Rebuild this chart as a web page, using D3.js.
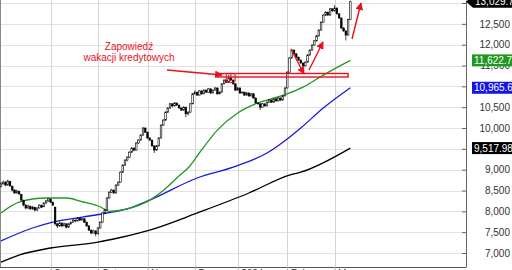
<!DOCTYPE html>
<html>
<head>
<meta charset="utf-8">
<script src="https://cdn.jsdelivr.net/npm/d3@7"></script>
<style>
  body { margin: 0; background: #fff; }
  svg { display: block; font-family: "Liberation Sans", Arial, sans-serif; }
</style>
</head>
<body>
<div id="chart"></div>
<script>
// daily OHLC, Aug 2023 - mid Mar 2024 (trading day index)
const opens = [8600,8660,8700,8630,8720,8600,8510,8440,8480,8400, 8260,8150,8080,8120,8060,8090,8030,8080,8140,8110,
  8200,8250,8290,8220,8100,7700,7650,7720,7650,7700, 7620,7700,7740,7790,7770,7840,7790,7820,7740,7650,
  7550,7480,7530,7460,7600,7740,7960,8030,8320,8460, 8510,8440,8630,8700,8940,9110,9230,9300,9420,9520,
  9470,9640,9710,9830,10000,9900,9760,9710,9570,9470, 9570,9760,10070,10190,10380,10480,10580,10530,10600,10550,
  10480,10430,10500,10340,10380,10580,10820,10860,10790,10890, 10820,10910,10860,10940,10840,10910,10960,10820,10860,11060,
  11150,11100,11200,11150,11060,10910,10960,10840,10860,10790, 10840,10770,10820,10720,10600,10580,10500,10580,10530,10620,
  10670,10620,10700,10650,10720,10670,10770,10960,11340,11680, 11870,11780,11700,11630,11560,11490,11580,11750,11870,11990,
  12090,12210,12350,12540,12710,12780,12710,12860,12810,12880, 12740,12640,12400,12330,12230,12600];
const highs = [8700,8740,8720,8760,8730,8620,8530,8520,8500,8420, 8280,8170,8160,8140,8130,8110,8100,8170,8160,8220,
  8270,8320,8310,8230,8110,7720,7750,7730,7730,7710, 7720,7760,7810,7800,7860,7850,7840,7830,7750,7660,
  7560,7560,7540,7620,7760,7980,8060,8340,8480,8540, 8520,8650,8720,8960,9130,9250,9320,9440,9540,9530,
  9660,9730,9850,10020,10010,9910,9780,9720,9580,9590, 9780,10090,10210,10400,10500,10600,10590,10620,10610,10560,
  10490,10520,10510,10400,10600,10840,10900,10870,10910,10900, 10930,10920,10960,10950,10930,10980,10970,10880,11080,11170,
  11160,11280,11300,11160,11070,10980,10970,10880,10870,10860, 10850,10840,10830,10730,10620,10590,10600,10590,10640,10690,
  10680,10720,10710,10740,10730,10790,10980,11360,11700,11900, 11880,11790,11710,11640,11570,11600,11770,11890,12010,12110,
  12230,12370,12560,12730,12800,12790,12880,12870,12950,12890, 12750,12650,12420,12340,12620,13060];
const lows = [8580,8640,8600,8620,8590,8480,8420,8430,8390,8250, 8120,8050,8060,8030,8040,8000,8010,8070,8080,8100,
  8180,8230,8200,8130,7660,7600,7630,7620,7640,7590, 7610,7680,7730,7740,7760,7770,7780,7720,7630,7530,
  7450,7470,7400,7450,7590,7730,7940,8020,8300,8440, 8420,8430,8610,8690,8920,9090,9200,9280,9400,9440,
  9460,9620,9700,9820,9880,9740,9690,9550,9400,9460, 9560,9750,10050,10170,10360,10460,10500,10520,10530,10460,
  10410,10420,10260,10300,10370,10570,10800,10770,10780,10800, 10810,10840,10850,10820,10830,10900,10800,10810,10850,11050,
  11080,11090,11130,11040,10890,10900,10820,10830,10770,10780, 10750,10760,10700,10580,10560,10430,10490,10510,10520,10610,
  10600,10610,10630,10640,10650,10660,10760,10950,11330,11670, 11760,11680,11610,11540,11450,11480,11570,11740,11860,11980,
  12080,12200,12340,12530,12690,12690,12700,12790,12800,12720, 12620,12380,12310,12100,12220,12590];
const closes = [8660,8700,8630,8730,8610,8510,8440,8490,8420,8270, 8150,8080,8130,8060,8100,8030,8080,8150,8100,8200,
  8250,8300,8220,8150,7700,7650,7720,7650,7700,7620, 7700,7740,7790,7770,7840,7790,7820,7740,7650,7550,
  7480,7530,7460,7600,7740,7960,8030,8320,8460,8510, 8440,8630,8700,8940,9110,9230,9300,9420,9520,9470,
  9640,9710,9830,10000,9900,9760,9710,9570,9470,9570, 9760,10070,10190,10380,10480,10580,10530,10600,10550,10480,
  10430,10500,10340,10380,10580,10820,10860,10790,10890,10820, 10910,10860,10940,10840,10910,10960,10820,10860,11060,11150,
  11100,11200,11150,11060,10910,10960,10840,10860,10790,10840, 10770,10820,10720,10600,10580,10500,10580,10530,10620,10670,
  10620,10700,10650,10720,10670,10770,10960,11340,11680,11870, 11780,11700,11630,11560,11490,11580,11750,11870,11990,12090,
  12210,12350,12540,12710,12780,12710,12860,12810,12880,12740, 12640,12400,12330,12230,12600,13029.7];

// moving averages (day index, value)
const sma50Idx = [0,8,20,29,36,44,48,56,66,72,78,84,88,96,105,114,120,126,134,143,155];
const sma50 = [7960,8220,8320,8320,8230,8110,8000,8060,8270,8500,8800,9100,9400,9950,10360,10600,10700,10800,10980,11270,11622.7];
const sma100Idx = [0,14,23,36,47,56,66,87,103,118,128,133,143,155];
const sma100 = [7290,7600,7740,7860,7960,8060,8270,8800,9060,9400,9780,10000,10480,10965.6];
const sma200Idx = [0,8,22,43,52,66,88,110,128,133,155];
const sma200 = [6780,6950,7120,7260,7360,7550,7980,8440,8870,8940,9517.98];

const monthIdx = [22,43,65,86,105,127,148];
const monthLabels = ['Sep','Oct','Nov','Dec','2024','Feb','Mar'];
const yTicks = [7000,7500,8000,8500,9000,9500,10000,10500,11000,11500,12000,12500,13000];
const hiddenTicks = [9500,11000,13000]; // covered by the value tags

const W = 512, H = 270;
const plotR = 466, plotB = 267;

const svg = d3.select('#chart').append('svg').attr('width', W).attr('height', H);

const x = d3.scaleLinear().domain([0, 206]).range([1, 465.3]);
const y = d3.scaleLinear().domain([6664, 13072]).range([plotB, 0]);

// grid
svg.append('g').selectAll('line').data(yTicks).enter().append('line')
  .attr('x1', 0).attr('x2', plotR)
  .attr('y1', d => Math.round(y(d)) + 0.5).attr('y2', d => Math.round(y(d)) + 0.5)
  .attr('stroke', '#e2e2e2');
svg.append('g').selectAll('line').data(monthIdx).enter().append('line')
  .attr('x1', d => Math.round(x(d)) + 0.5).attr('x2', d => Math.round(x(d)) + 0.5)
  .attr('y1', 0).attr('y2', plotB)
  .attr('stroke', '#d4d4d4');
svg.append('line').attr('x1', 0.5).attr('x2', 0.5).attr('y1', 0).attr('y2', plotB).attr('stroke', '#888');

// moving averages
const maLine = (idx) => d3.line().x((d, i) => x(idx[i])).y(d => y(d)).curve(d3.curveMonotoneX);
svg.append('path').attr('d', maLine(sma200Idx)(sma200)).attr('fill', 'none').attr('stroke', '#000').attr('stroke-width', 1.3);
svg.append('path').attr('d', maLine(sma100Idx)(sma100)).attr('fill', 'none').attr('stroke', '#1a1ad8').attr('stroke-width', 1.3);
svg.append('path').attr('d', maLine(sma50Idx)(sma50)).attr('fill', 'none').attr('stroke', '#229922').attr('stroke-width', 1.3);

// candles
const days = d3.range(closes.length);
const candles = svg.append('g');
candles.selectAll('.wick').data(days).enter().append('line')
  .attr('x1', d => x(d)).attr('x2', d => x(d))
  .attr('y1', d => y(highs[d])).attr('y2', d => y(lows[d]))
  .attr('stroke', '#000').attr('stroke-width', 0.7);
candles.selectAll('.body').data(days).enter().append('rect')
  .attr('x', d => x(d) - 0.8)
  .attr('width', 1.6)
  .attr('y', d => y(Math.max(opens[d], closes[d])))
  .attr('height', d => Math.max(0.8, Math.abs(y(opens[d]) - y(closes[d]))))
  .attr('fill', d => closes[d] >= opens[d] ? '#fff' : '#000')
  .attr('stroke', '#000').attr('stroke-width', 0.6);

// annotations
const red = '#e8121c';
const defs = svg.append('defs');
defs.append('marker').attr('id', 'ah').attr('viewBox', '0 0 10 10')
  .attr('refX', 9).attr('refY', 5).attr('markerWidth', 5.5).attr('markerHeight', 5.5)
  .attr('orient', 'auto').append('path').attr('d', 'M0,0L10,5L0,10Z').attr('fill', red);

svg.append('rect').attr('x', x(96)).attr('y', 73.5).attr('width', x(154) - x(96)).attr('height', 3.5)
  .attr('fill', 'none').attr('stroke', red).attr('stroke-width', 1.4);
svg.append('rect').attr('x', x(101) - 2.5).attr('y', y(11310)).attr('width', 9).attr('height', 9)
  .attr('rx', 1.5).attr('fill', 'rgba(232,18,28,0.12)').attr('stroke', red).attr('stroke-width', 1);

const arrows = [
  [167, 70, 222, 75],
  [291, 49, 304, 74],
  [309, 70, 323, 42],
  [352, 39, 361, 3]
];
svg.append('g').selectAll('line').data(arrows).enter().append('line')
  .attr('x1', d => d[0]).attr('y1', d => d[1]).attr('x2', d => d[2]).attr('y2', d => d[3])
  .attr('stroke', red).attr('stroke-width', 1.4).attr('marker-end', 'url(#ah)');

svg.append('text').attr('x', 129).attr('y', 50).attr('text-anchor', 'middle')
  .attr('fill', red).attr('font-size', 10).text('Zapowiedź');
svg.append('text').attr('x', 129).attr('y', 61).attr('text-anchor', 'middle')
  .attr('fill', red).attr('font-size', 10).text('wakacji kredytowych');

// right axis
const yAxis = svg.append('g').attr('transform', `translate(${plotR},0)`)
  .call(d3.axisRight(y).tickValues(yTicks).tickSize(-4).tickSizeOuter(0)
    .tickFormat(d => hiddenTicks.includes(d) ? '' : d3.format(',')(d)));
yAxis.select('.domain').attr('stroke', '#666');
yAxis.selectAll('.tick line').attr('stroke', '#666');
yAxis.selectAll('.tick text').attr('text-anchor', 'end').attr('x', 44)
  .attr('fill', '#333').attr('font-size', 10).attr('font-family', '"Liberation Sans", Arial, sans-serif');

// bottom axis
const xAxis = svg.append('g').attr('transform', `translate(0,${plotB})`)
  .call(d3.axisBottom(x).tickValues(monthIdx).tickSize(4).tickSizeOuter(0)
    .tickFormat((d, i) => monthLabels[i]));
xAxis.select('.domain').attr('stroke', '#555').attr('d', `M0,0.5H${plotR}`);
xAxis.selectAll('.tick line').attr('stroke', '#aaa');
xAxis.selectAll('.tick text').attr('text-anchor', 'start').attr('x', 3).attr('y', 3)
  .attr('fill', '#333').attr('font-size', 10).attr('font-family', '"Liberation Sans", Arial, sans-serif');

// value tags
const tags = [
  { v: sma50[sma50.length - 1], fill: '#1f9a1f', text: '11,622.7' },
  { v: sma100[sma100.length - 1], fill: '#1515e6', text: '10,965.6' },
  { v: sma200[sma200.length - 1], fill: '#000', text: '9,517.98' }
];
tags.forEach(t => {
  const cy = y(t.v);
  svg.append('rect').attr('x', 472).attr('y', cy - 6).attr('width', 44).attr('height', 12).attr('fill', t.fill);
  svg.append('text').attr('x', 474).attr('y', cy + 3.6).attr('fill', '#fff').attr('font-size', 10).text(t.text);
});
const lastY = y(closes[closes.length - 1]);
svg.append('path')
  .attr('d', `M${plotR},${lastY}L${plotR + 7},${lastY - 6}H${W + 4}V${lastY + 6}H${plotR + 7}Z`)
  .attr('fill', '#000');
svg.append('text').attr('x', 475).attr('y', lastY + 3.6).attr('fill', '#fff').attr('font-size', 10)
  .text(d3.format(',.1f')(closes[closes.length - 1]));
</script>
</body>
</html>
